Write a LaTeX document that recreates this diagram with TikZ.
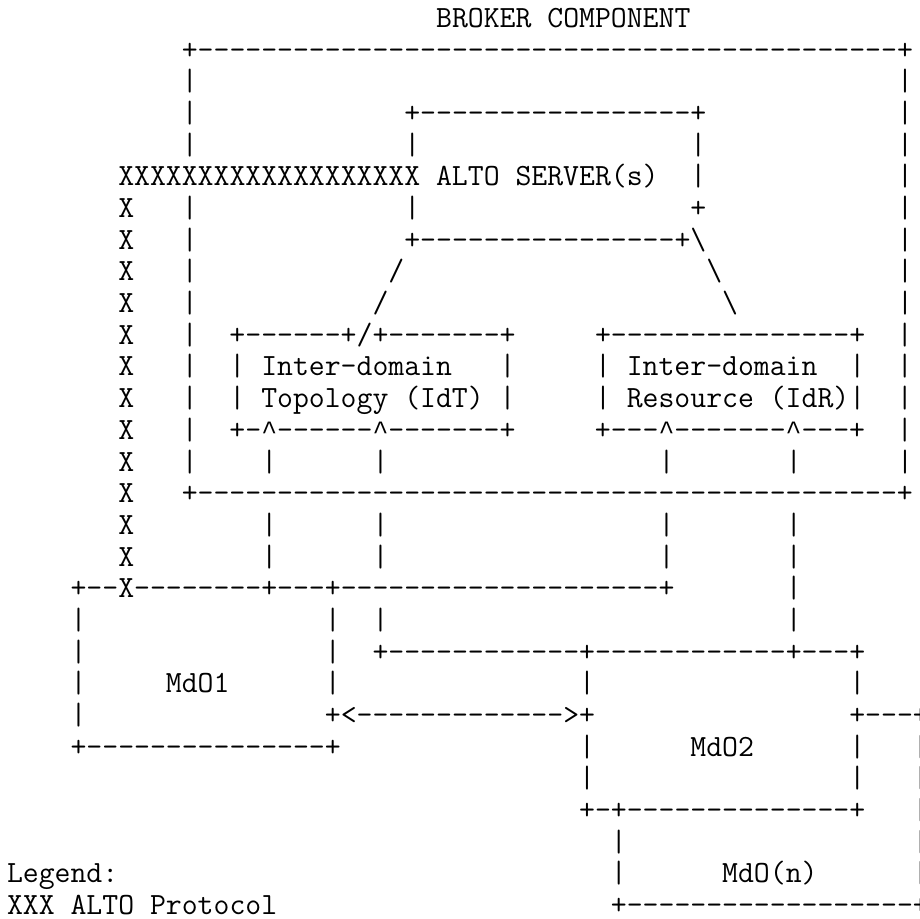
\documentclass[tikz,border=0pt]{standalone}
\usepackage{fontspec}
\newfontfamily\carfont{Liberation Mono}
\newcommand\Sp[1]{\kern#1\fontcharwd\font`\X\relax}
\ExplSyntaxOn
\cs_new:Npn \Rep #1#2 { \prg_replicate:nn {#1} {#2} }
\ExplSyntaxOff
\newcommand\Dh[1]{\Rep{#1}{-}}
\newcommand\Ca{\makebox[15.87pt][c]{\carfont\fontsize{26.45pt}{31.68pt}\selectfont\textasciicircum}}
\newcommand\Bs{\textbackslash}
\tikzset{asc/.style={anchor=base west, inner sep=0pt, outer sep=0pt, text=black,
  font=\ttfamily\fontsize{30.86pt}{31.68pt}\selectfont}}
\begin{document}
\begin{tikzpicture}[x=1pt,y=1pt]
\path[use as bounding box] (0,0) rectangle (920,918);
\fill[white] (0,0) rectangle (920,918);
\clip (0,0) rectangle (920,918);
\node[asc] (l1)  at (7,890.50) {\Sp{27}BROKER\Sp{1}COMPONENT};
\node[asc] (l2)  at (7,858.82) {\Sp{11}+\Dh{44}+};
\node[asc] (l3)  at (7,827.14) {\Sp{11}|\Sp{44}|};
\node[asc] (l4)  at (7,795.46) {\Sp{11}|\Sp{13}+\Dh{17}+\Sp{12}|};
\node[asc] (l5)  at (7,763.78) {\Sp{11}|\Sp{13}|\Sp{17}|\Sp{12}|};
\node[asc] (l6)  at (7,732.10) {\Sp{7}\Rep{19}{X}\Sp{1}ALTO\Sp{1}SERVER(s)\Sp{2}|\Sp{12}|};
\node[asc] (l7)  at (7,700.42) {\Sp{7}X\Sp{3}|\Sp{13}|\Sp{17}+\Sp{12}|};
\node[asc] (l8)  at (7,668.74) {\Sp{7}X\Sp{3}|\Sp{13}+\Dh{16}+\Bs\Sp{12}|};
\node[asc] (l9)  at (7,637.06) {\Sp{7}X\Sp{3}|\Sp{12}/\Sp{19}\Bs\Sp{11}|};
\node[asc] (l10) at (7,605.38) {\Sp{7}X\Sp{3}|\Sp{11}/\Sp{21}\Bs\Sp{10}|};
\node[asc] (l11) at (7,573.70) {\Sp{7}X\Sp{3}|\Sp{2}+\Dh{6}+/+\Dh{7}+\Sp{5}+\Dh{15}+\Sp{2}|};
\node[asc] (l12) at (7,542.02) {\Sp{7}X\Sp{3}|\Sp{2}|\Sp{1}Inter-domain\Sp{3}|\Sp{5}|\Sp{1}Inter-domain\Sp{2}|\Sp{2}|};
\node[asc] (l13) at (7,510.34) {\Sp{7}X\Sp{3}|\Sp{2}|\Sp{1}Topology\Sp{1}(IdT)\Sp{1}|\Sp{5}|\Sp{1}Resource\Sp{1}(IdR)|\Sp{2}|};
\node[asc] (l14) at (7,478.66) {\Sp{7}X\Sp{3}|\Sp{2}+-\Ca\Dh{6}\Ca\Dh{7}+\Sp{5}+\Dh{3}\Ca\Dh{7}\Ca\Dh{3}+\Sp{2}|};
\node[asc] (l15) at (7,446.98) {\Sp{7}X\Sp{3}|\Sp{4}|\Sp{6}|\Sp{17}|\Sp{7}|\Sp{6}|};
\node[asc] (l16) at (7,415.30) {\Sp{7}X\Sp{3}+\Dh{44}+};
\node[asc] (l17) at (7,383.62) {\Sp{7}X\Sp{8}|\Sp{6}|\Sp{17}|\Sp{7}|};
\node[asc] (l18) at (7,351.94) {\Sp{7}X\Sp{8}|\Sp{6}|\Sp{17}|\Sp{7}|};
\node[asc] (l19) at (7,320.26) {\Sp{4}+\Dh{2}X\Dh{8}+\Dh{3}+\Dh{20}+\Sp{7}|};
\node[asc] (l20) at (7,288.58) {\Sp{4}|\Sp{15}|\Sp{2}|\Sp{25}|};
\node[asc] (l21) at (7,256.90) {\Sp{4}|\Sp{15}|\Sp{2}+\Dh{12}+\Dh{12}+\Dh{3}+};
\node[asc] (l22) at (7,225.22) {\Sp{4}|\Sp{5}MdO1\Sp{6}|\Sp{15}|\Sp{16}|};
\node[asc] (l23) at (7,193.54) {\Sp{4}|\Sp{15}+<\Dh{13}>+\Sp{16}+\Dh{3}+};
\node[asc] (l24) at (7,161.86) {\Sp{4}+\Dh{15}+\Sp{15}|\Sp{6}MdO2\Sp{6}|\Sp{3}|};
\node[asc] (l25) at (7,130.18) {\Sp{36}|\Sp{16}|\Sp{3}|};
\node[asc] (l26) at (7,98.50)  {\Sp{36}+-+\Dh{14}+\Sp{3}|};
\node[asc] (l27) at (7,66.82)  {\Sp{38}|\Sp{18}|};
\node[asc] (l28) at (7,35.14)  {Legend:\Sp{31}|\Sp{6}MdO(n)\Sp{6}|};
\node[asc] (l29) at (7,3.46)   {XXX\Sp{1}ALTO\Sp{1}Protocol\Sp{21}+\Dh{18}+};
\end{tikzpicture}
\end{document}
